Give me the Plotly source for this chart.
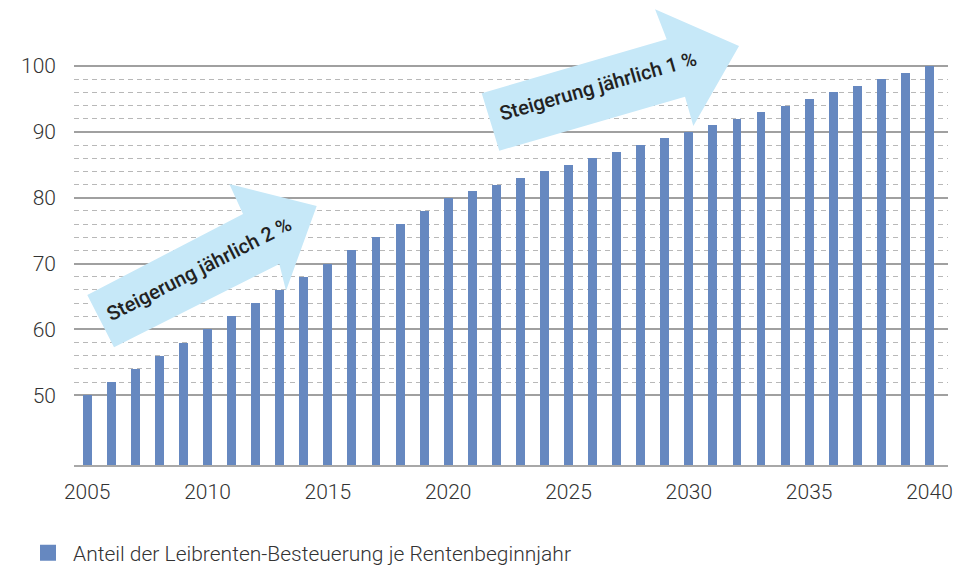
import plotly.graph_objects as go

# Daten: Anteil der Besteuerung je Rentenbeginnjahr
jahre = [2005, 2006, 2007, 2008, 2009, 2010, 2011, 2012, 2013, 2014,
         2015, 2016, 2017, 2018, 2019, 2020, 2021, 2022, 2023, 2024,
         2025, 2026, 2027, 2028, 2029, 2030, 2031, 2032, 2033, 2034,
         2035, 2036, 2037, 2038, 2039, 2040]
anteil = [50, 52, 54, 56, 58, 60, 62, 64, 66, 68,
          70, 72, 74, 76, 78, 80, 81, 82, 83, 84,
          85, 86, 87, 88, 89, 90, 91, 92, 93, 94,
          95, 96, 97, 98, 99, 100]
x_ticks = [2005, 2010, 2015, 2020, 2025, 2030, 2035, 2040]
y_major = [50, 60, 70, 80, 90, 100]
y_minor = [52, 54, 56, 58, 62, 64, 66, 68, 72, 74, 76, 78,
           82, 84, 86, 88, 92, 94, 96, 98]
legend_name = "Anteil der Leibrenten-Besteuerung je Rentenbeginnjahr"
pfeil_texte = ["Steigerung jährlich 2 %", "Steigerung jährlich 1 %"]

BAR_COLOR = "#6688c0"
ARROW_COLOR = "rgb(198,232,248)"
FONT = "Roboto"

# Seite hat 8px Rand -> Figur etwas kleiner, Koordinaten in Seitenpixeln
OFF = 8
W, H = 975 - OFF, 566 - OFF
L, R, T, B = 74, 948, 60, 465


def px(x):
    return (x - L) / (R - L)


def py(y):
    return (B - y) / (B - T)


def poly(points):
    pts = [f"{px(x):.4f},{py(y):.4f}" for x, y in points]
    return "M" + " L".join(pts) + " Z"


fig = go.Figure()

fig.add_trace(go.Bar(
    x=jahre, y=anteil,
    width=0.37,
    marker=dict(color=BAR_COLOR, line=dict(width=0)),
    showlegend=False,
))

# Legendeneintrag (Quadrat)
fig.add_trace(go.Scatter(
    x=[None], y=[None], mode="markers",
    marker=dict(symbol="square", size=16, color=BAR_COLOR),
    name=legend_name,
))

# Pfeile
pfeil1 = [(87.3, 295), (243, 214), (229.3, 184), (316.7, 206),
          (286, 290.7), (279.3, 264), (114, 347.3)]
pfeil2 = [(481.7, 93.3), (666.7, 39.3), (655, 9.3), (739, 46),
          (693.3, 126), (685, 96.7), (499.3, 150.7)]
for p in (pfeil1, pfeil2):
    fig.add_shape(type="path", path=poly(p), xref="paper", yref="paper",
                  fillcolor=ARROW_COLOR, line=dict(width=0), layer="above")

for (cx, cy, ang), txt in zip([(199, 269, -27), (598, 86, -16)], pfeil_texte):
    fig.add_annotation(x=px(cx), y=py(cy), xref="paper", yref="paper",
                       xanchor="center", yanchor="middle",
                       text=txt, showarrow=False, textangle=ang,
                       font=dict(family=FONT, size=20, color="#222222", weight=500))

fig.update_layout(
    width=W, height=H,
    margin=dict(l=L - OFF, r=975 - R, t=T - OFF, b=566 - B, autoexpand=False),
    plot_bgcolor="white", paper_bgcolor="white",
    font=dict(family=FONT, size=21, color="#333333", weight=300),
    bargap=0,
    legend=dict(orientation="h", xref="container", yref="container",
                x=(23 - OFF) / W, y=1 - (553 - OFF) / H,
                xanchor="left", yanchor="middle", itemwidth=40,
                font=dict(size=21, color="#333333")),
)

fig.update_xaxes(
    range=[2004.452, 2040.769],
    tickvals=x_ticks,
    showgrid=False,
    showline=True, linecolor="#a8a8a8", linewidth=1.5,
    ticks="", ticklabelstandoff=7,
    zeroline=False,
)
fig.update_yaxes(
    range=[39.4, 100.91],
    tickvals=y_major,
    showgrid=True, gridcolor="#a0a0a0", gridwidth=1.5,
    minor=dict(tickvals=y_minor, showgrid=True, gridcolor="#b8b8b8",
               griddash="5px,4px", gridwidth=1),
    ticks="", ticklabelstandoff=17,
    zeroline=False, showline=False,
)

fig.write_html("out.html")
